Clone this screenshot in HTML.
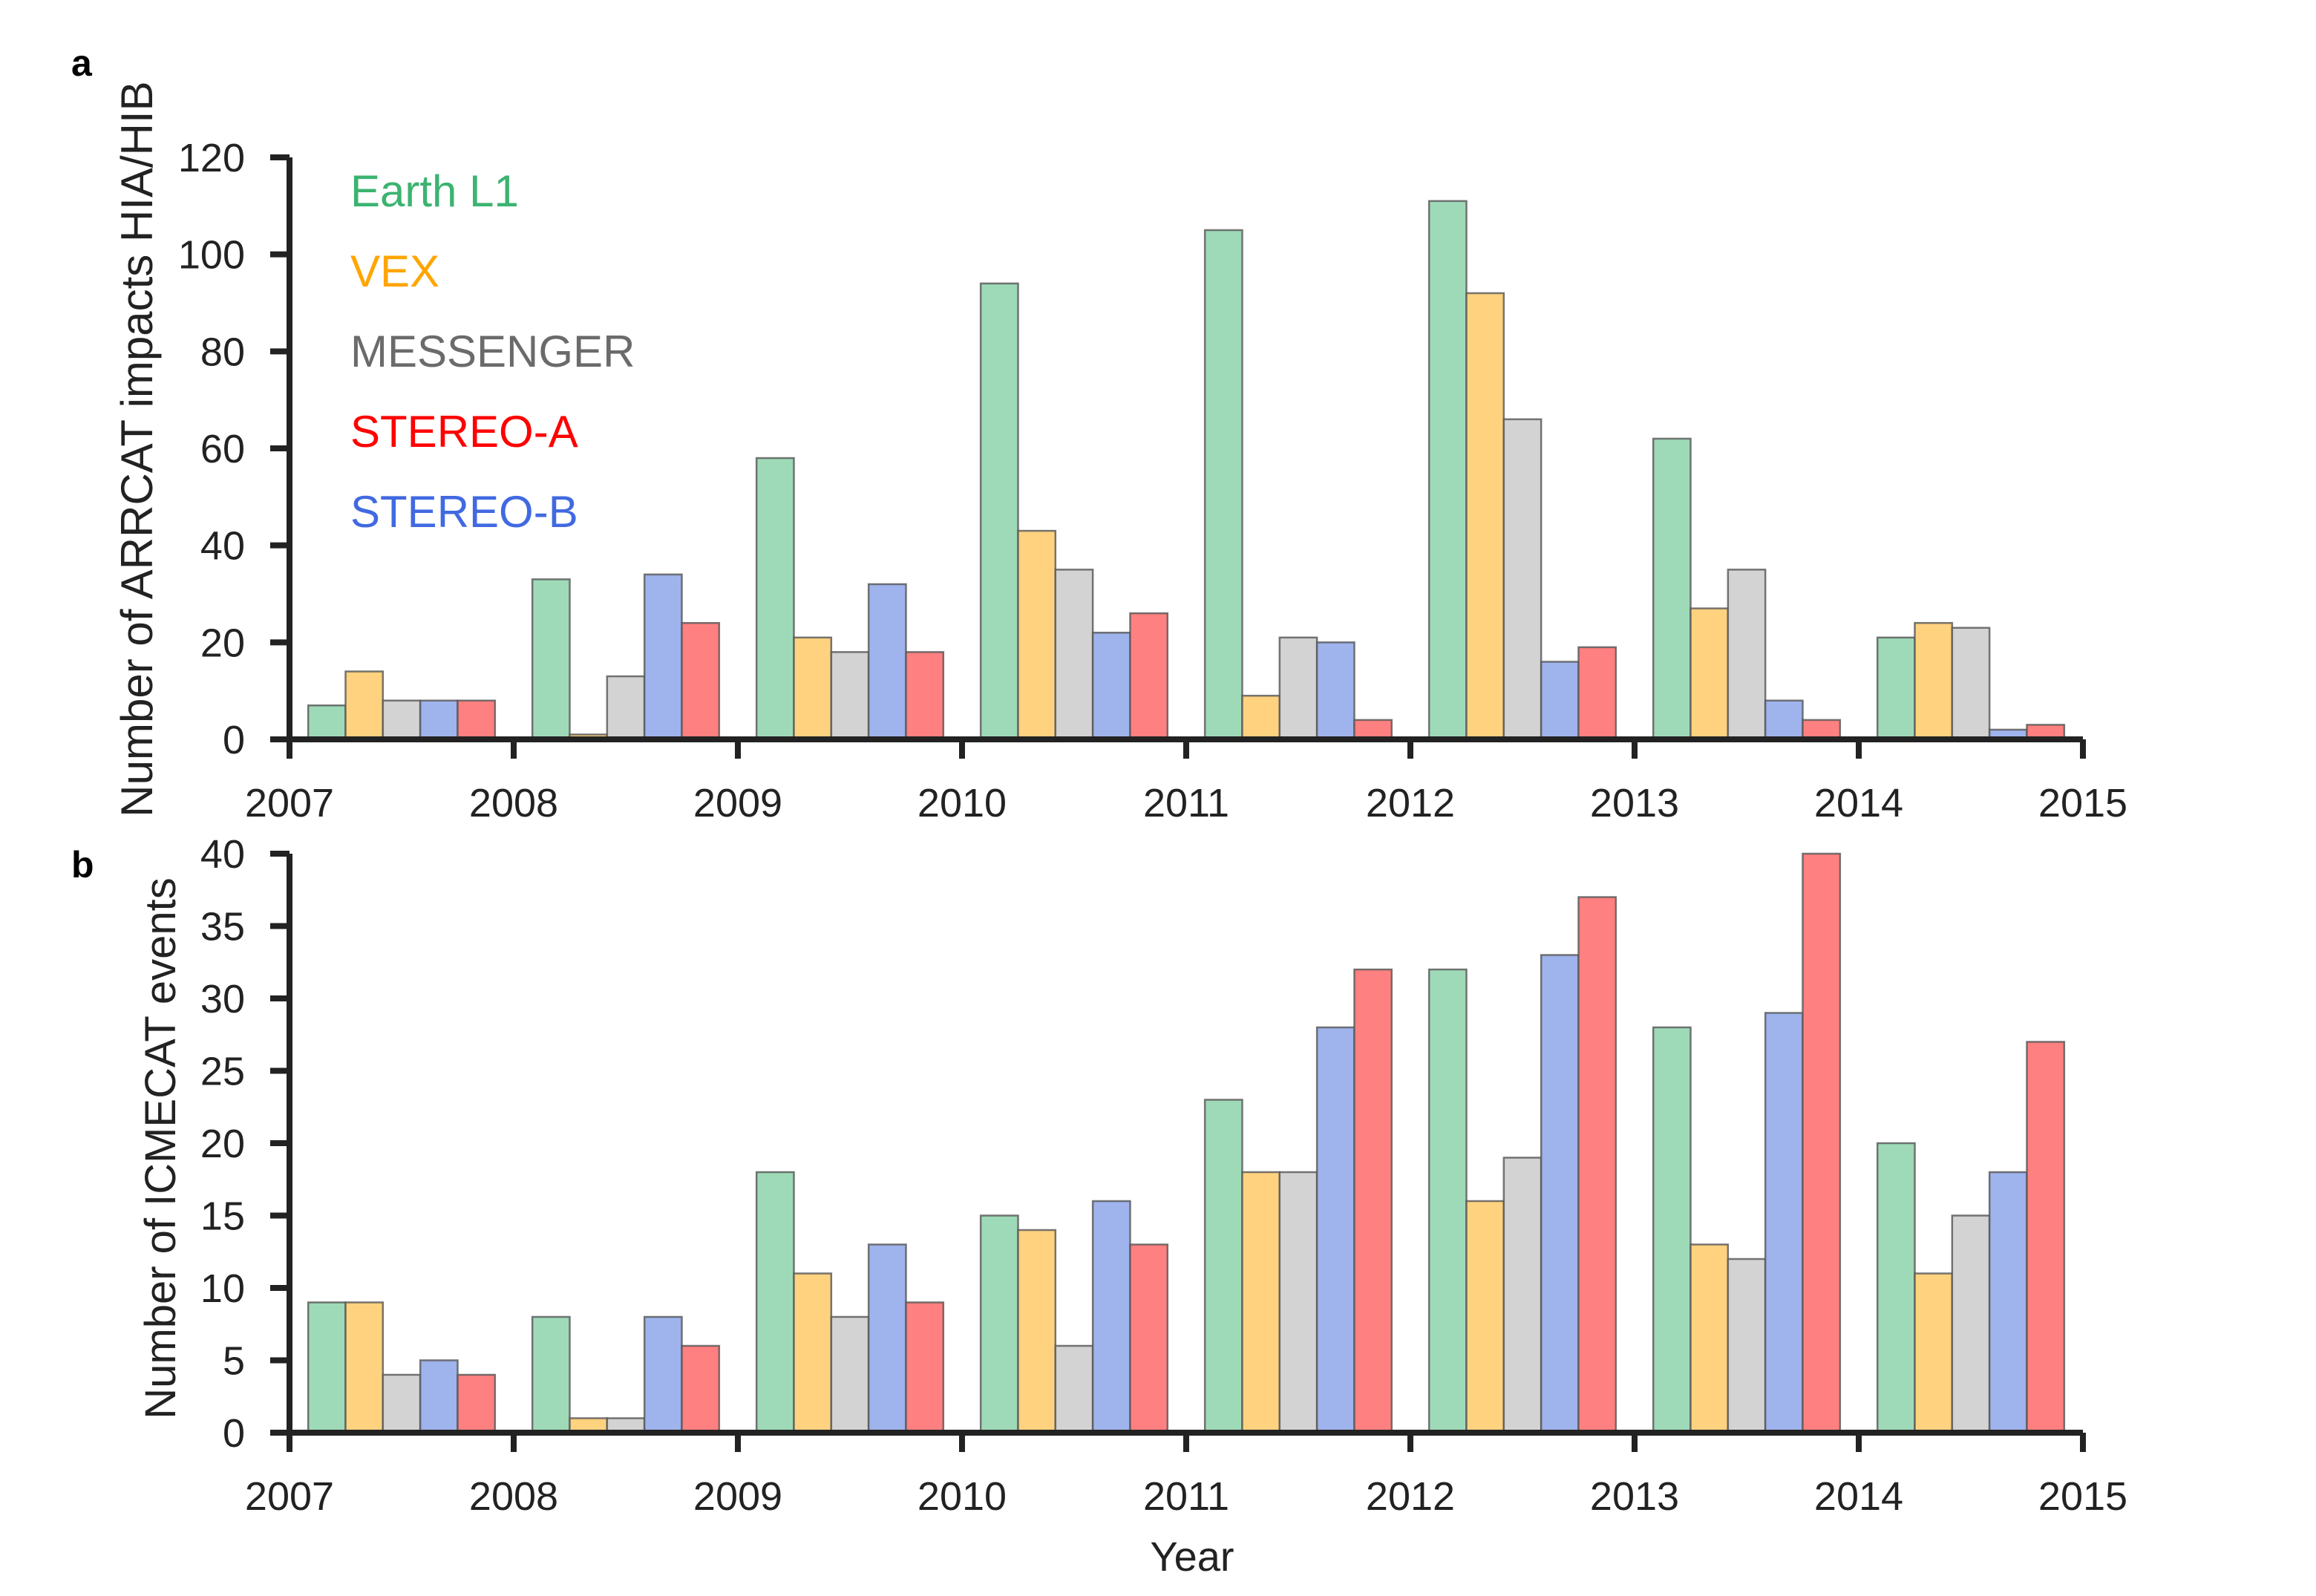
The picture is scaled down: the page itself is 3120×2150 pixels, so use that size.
<!DOCTYPE html>
<html><head><meta charset="utf-8"><style>
html,body{margin:0;padding:0;background:#fff}
svg text{font-family:"Liberation Sans",Arial,sans-serif;fill:#222}
</style></head><body>
<svg id="chart" width="3120" height="2145" viewBox="0 0 3120 2145" xmlns="http://www.w3.org/2000/svg">
<text x="96" y="102" font-size="50" font-weight="bold" style="fill:#000">a</text>
<text x="96" y="1182" font-size="50" font-weight="bold" style="fill:#000">b</text>
<text transform="translate(205,605) rotate(-90)" text-anchor="middle" font-size="60">Number of ARRCAT impacts HIA/HIB</text>
<text transform="translate(236,1547) rotate(-90)" text-anchor="middle" font-size="58">Number of ICMECAT events</text>
<text x="1606" y="2116" text-anchor="middle" font-size="56">Year</text>
<g id="legend"></g>
<g id="pa"></g>
<g id="pb"></g>
</svg>
<script>
const years = [2007,2008,2009,2010,2011,2012,2013,2014];
const xTickLabels = ["2007","2008","2009","2010","2011","2012","2013","2014","2015"];
const seriesNames = ["Earth L1","VEX","MESSENGER","STEREO-A","STEREO-B"];
const aEarth = [7,33,58,94,105,111,62,21];
const aVex = [14,1,21,43,9,92,27,24];
const aMes = [8,13,18,35,21,66,35,23];
const aStB = [8,34,32,22,20,16,8,2];
const aStA = [8,24,18,26,4,19,4,3];
const bEarth = [9,8,18,15,23,32,28,20];
const bVex = [9,1,11,14,18,16,13,11];
const bMes = [4,1,8,6,18,19,12,15];
const bStB = [5,8,13,16,28,33,29,18];
const bStA = [4,6,9,13,32,37,40,27];
const aTicks = [0,20,40,60,80,100,120];
const bTicks = [0,5,10,15,20,25,30,35,40];

const NS="http://www.w3.org/2000/svg";
function mk(tag,attrs,parent){const e=document.createElementNS(NS,tag);for(const k in attrs)e.setAttribute(k,attrs[k]);parent.appendChild(e);return e;}
const fills=["#9fdab8","#ffd280","#d3d3d3","#9fb3ec","#ff8080"];
const x0=390, yw=302;
function xs(year){return x0+(year-2007)*yw;}
function drawPanel(g,series,ticks,ymax,y0,ytop,name){
  const ys=v=>y0-(v/ymax)*(y0-ytop);
  const bw=yw/6;
  series.forEach((arr,si)=>{
    arr.forEach((v,i)=>{
      const r=mk('rect',{x:xs(years[i])+bw/2+si*bw,y:ys(v),width:bw,height:y0-ys(v),fill:fills[si],stroke:"#555","stroke-width":2.5,"stroke-opacity":0.8},g);
      
      
    });
  });
  const ax=mk('path',{d:`M${x0},${ytop} V${y0} H${xs(2015)}`,stroke:"#222","stroke-width":8,fill:"none"},g);
  
  
  ticks.forEach(t=>{
    const l=mk('line',{x1:x0-26,x2:x0,y1:ys(t),y2:ys(t),stroke:"#222","stroke-width":8},g);
    
    
    const tx=mk('text',{x:x0-60,y:ys(t)+19,"text-anchor":"end","font-size":54},g);
    tx.textContent=t;
    
    
  });
  xTickLabels.forEach((lab,i)=>{
    const x=xs(2007+i);
    const l=mk('line',{x1:x,x2:x,y1:y0,y2:y0+26,stroke:"#222","stroke-width":8},g);
    
    
    const tx=mk('text',{x:x,y:y0+104,"text-anchor":"middle","font-size":54},g);
    tx.textContent=lab;
    
    
  });
}
drawPanel(document.getElementById('pa'),[aEarth,aVex,aMes,aStB,aStA],aTicks,120,996,212,'panel-a');
drawPanel(document.getElementById('pb'),[bEarth,bVex,bMes,bStB,bStA],bTicks,40,1930,1150,'panel-b');
const legCols=["#3cb371","#ffa500","#6b6b6b","#ff0000","#4169e1"];
const lg=document.getElementById('legend');
seriesNames.forEach((n,i)=>{
  const t=mk('text',{x:472,y:278+i*108,"font-size":60,style:"fill:"+legCols[i]},lg);
  t.textContent=n;
  
  
});
</script>
</body></html>
